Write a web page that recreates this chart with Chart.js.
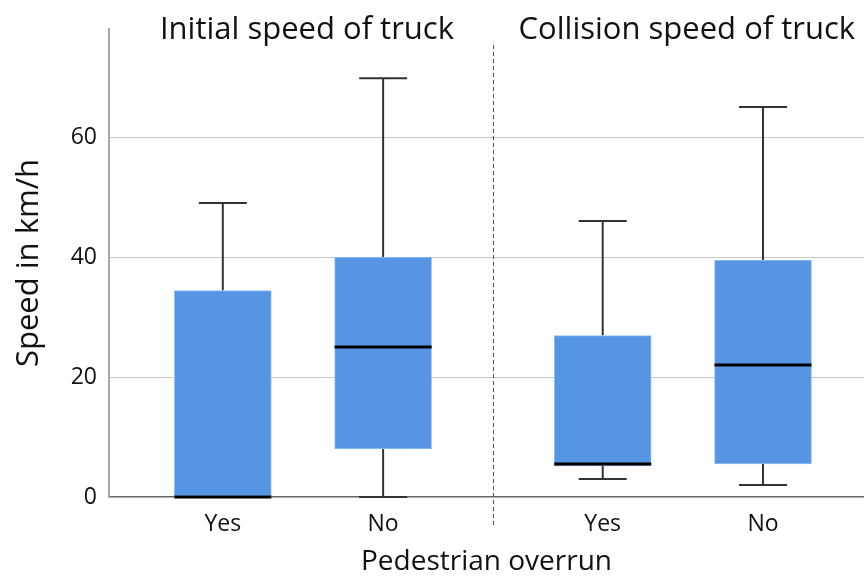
<!DOCTYPE html>
<html lang="en">
<head>
    <meta charset="UTF-8">
    <title>Speed of truck</title>
    <script src="https://cdn.jsdelivr.net/npm/chart.js"></script>
    <style>
        body {
            margin: 0;
            background: #fff;
        }

        .chart-container {
            width: 864px;
            height: 577px;
        }
    </style>
</head>
<body>
    <div class="chart-container">
        <canvas id="boxChart"></canvas>
    </div>

    <script>
        // Data, one entry per box: Yes / No for each panel
        const panels = ['Initial speed of truck', 'Collision speed of truck'];
        const categories = ['Yes', 'No'];
        const lowWhisker = [0, 0, 3, 2];
        const q1 = [0, 8, 5.2, 5.5];
        const median = [0, 25, 5.5, 22];
        const q3 = [34.4, 40, 26.9, 39.5];
        const highWhisker = [49, 69.8, 46, 65];
        const yTicks = [0, 20, 40, 60];

        // layout: second panel is shifted along the linear x axis
        const panelSpan = 2.37;
        const xPos = i => Math.floor(i / categories.length) * panelSpan + (i % categories.length);
        const font = '"Open Sans", sans-serif';

        const boxes = q1.map((v, i) => ({ x: xPos(i), y: [v, q3[i]] }));

        const boxPlugin = {
            id: 'boxParts',
            beforeDatasetsDraw(chart) {
                const { ctx, scales: { x, y } } = chart;
                ctx.save();
                ctx.strokeStyle = '#333';
                ctx.lineWidth = 2;
                q1.forEach((v, i) => {
                    const cx = x.getPixelForValue(xPos(i));
                    const half = 24;
                    ctx.beginPath();
                    ctx.moveTo(cx, y.getPixelForValue(highWhisker[i]));
                    ctx.lineTo(cx, y.getPixelForValue(q3[i]));
                    ctx.moveTo(cx, y.getPixelForValue(lowWhisker[i]));
                    ctx.lineTo(cx, y.getPixelForValue(v));
                    ctx.moveTo(cx - half, y.getPixelForValue(highWhisker[i]));
                    ctx.lineTo(cx + half, y.getPixelForValue(highWhisker[i]));
                    ctx.moveTo(cx - half, y.getPixelForValue(lowWhisker[i]));
                    ctx.lineTo(cx + half, y.getPixelForValue(lowWhisker[i]));
                    ctx.stroke();
                });
                ctx.restore();
            },
            afterDatasetsDraw(chart) {
                const { ctx, chartArea, scales: { x, y } } = chart;
                const bars = chart.getDatasetMeta(0).data;
                ctx.save();
                // medians
                ctx.strokeStyle = '#000';
                ctx.lineWidth = 3;
                median.forEach((m, i) => {
                    const b = bars[i];
                    const my = y.getPixelForValue(m);
                    ctx.beginPath();
                    ctx.moveTo(b.x - b.width / 2, my);
                    ctx.lineTo(b.x + b.width / 2, my);
                    ctx.stroke();
                });
                // dashed divider between the panels
                const dx = Math.round(x.getPixelForValue((categories.length - 1 + panelSpan) / 2)) + 0.5;
                ctx.strokeStyle = '#555';
                ctx.lineWidth = 1;
                ctx.setLineDash([4, 3]);
                ctx.beginPath();
                ctx.moveTo(dx, chartArea.top + 16);
                ctx.lineTo(dx, chartArea.bottom + 31);
                ctx.stroke();
                ctx.setLineDash([]);
                // panel titles
                ctx.fillStyle = '#111';
                ctx.font = '31px ' + font;
                ctx.textAlign = 'center';
                ctx.textBaseline = 'middle';
                panels.forEach((p, k) => {
                    const mid = k * panelSpan + (categories.length - 1) / 2;
                    ctx.fillText(p, x.getPixelForValue(mid) + 4, chartArea.top + 1);
                });
                ctx.restore();
            }
        };

        const ctx = document.getElementById('boxChart').getContext('2d');
        const boxChart = new Chart(ctx, {
            type: 'bar',
            data: {
                datasets: [{
                    data: boxes,
                    backgroundColor: 'rgb(85, 149, 227)',
                    borderColor: 'rgba(150, 192, 240, 1)',
                    borderWidth: 1,
                    borderSkipped: false,
                    barThickness: 97
                }]
            },
            options: {
                responsive: true,
                maintainAspectRatio: false,
                animation: false,
                layout: { padding: { top: 29, right: 0 } },
                plugins: {
                    legend: { display: false },
                    tooltip: { enabled: false }
                },
                scales: {
                    x: {
                        type: 'linear',
                        offset: false,
                        min: -0.71,
                        max: 4.0,
                        afterBuildTicks: scale => {
                            scale.ticks = q1.map((v, i) => ({ value: xPos(i) }));
                        },
                        afterFit: scale => { scale.height = 80; },
                        ticks: {
                            autoSkip: false,
                            maxRotation: 0,
                            padding: 6,
                            color: '#111',
                            font: { family: font, size: 23 },
                            callback: (value, index) => categories[index % categories.length]
                        },
                        grid: { display: false },
                        border: { color: '#666', width: 1.5 },
                        title: {
                            display: true,
                            text: 'Pedestrian overrun',
                            color: '#111',
                            font: { family: font, size: 28, lineHeight: 1.05 },
                            padding: { top: 4, bottom: 0 }
                        }
                    },
                    y: {
                        min: 0,
                        max: 78,
                        afterBuildTicks: scale => {
                            scale.ticks = yTicks.map(v => ({ value: v }));
                        },
                        afterFit: scale => { scale.width = 109; },
                        ticks: {
                            padding: 12,
                            color: '#111',
                            font: { family: font, size: 23 }
                        },
                        grid: {
                            drawTicks: false,
                            color: c => c.tick && c.tick.value === 0 ? 'rgba(0,0,0,0)' : '#c8c8c8'
                        },
                        border: { color: '#a8a8a8', width: 2 },
                        title: {
                            display: true,
                            text: 'Speed in km/h',
                            color: '#111',
                            font: { family: font, size: 31 },
                            padding: { top: 11, bottom: 4 }
                        }
                    }
                }
            },
            plugins: [boxPlugin]
        });
    </script>
</body>
</html>
